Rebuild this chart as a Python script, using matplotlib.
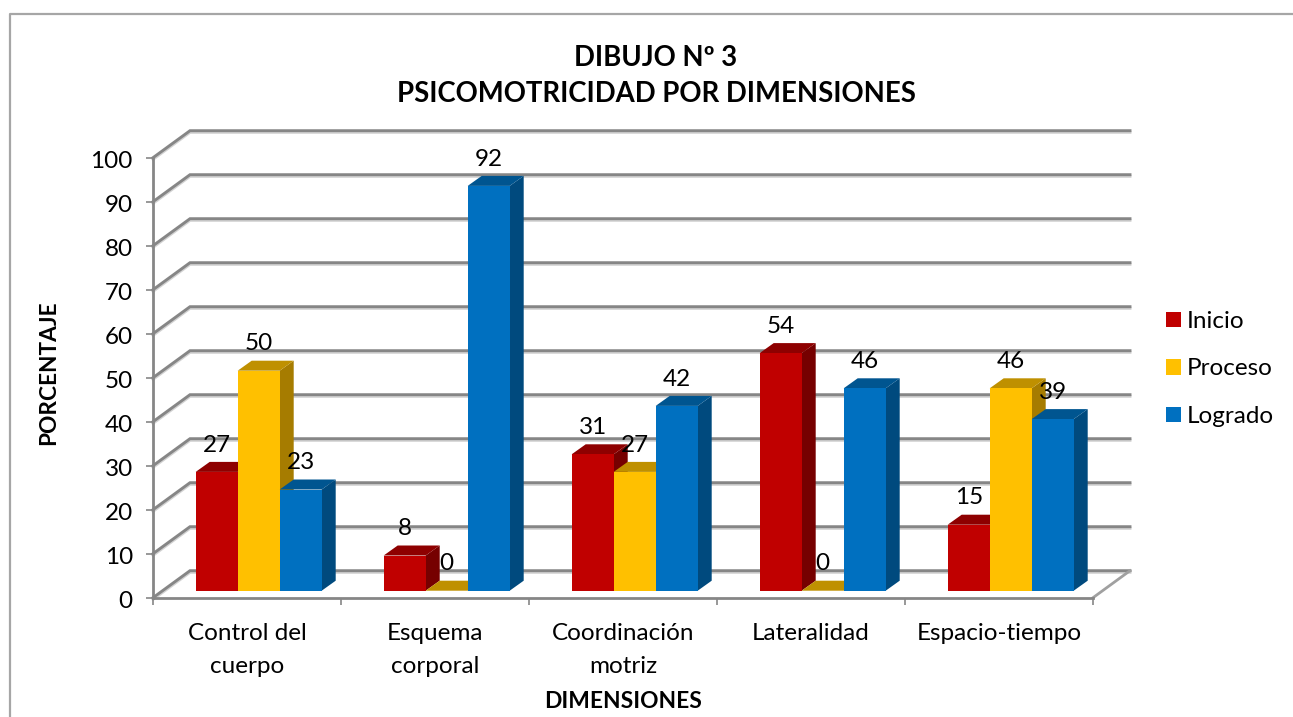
import numpy as np
import matplotlib
matplotlib.use("Agg")
import matplotlib.pyplot as plt
import matplotlib.patheffects as pe
from matplotlib.lines import Line2D
from matplotlib.transforms import ScaledTranslation

categories = ["Control del\ncuerpo", "Esquema\ncorporal", "Coordinación\nmotriz", "Lateralidad", "Espacio-tiempo"]
inicio = [27, 8, 31, 54, 15]
proceso = [50, 0, 27, 0, 46]
logrado = [23, 92, 42, 46, 39]
yticks = list(range(0, 101, 10))

plt.rcParams["font.family"] = ["Lato", "DejaVu Sans"]

W, H = 1293, 717
fig = plt.figure(figsize=(W / 100, H / 100), dpi=100)
ax = fig.add_axes([153 / W, 1 - 597.7 / H, 940 / W, 440 / H])
ax.set_xlim(0, 5)
ax.set_ylim(0, 100)

# pixel to data scale
px_x = 5 / 940
px_y = 100 / 440

grid_col = "#868686"
wall_dx, wall_dy = 37 * px_x, 27 * px_y
shadow = [pe.SimpleLineShadow(offset=(0, -1.2), shadow_color="#808080", alpha=0.35), pe.Normal()]

# back wall, side wall, floor
for t in yticks:
    ax.plot([0, wall_dx, 5 + wall_dx], [t, t + wall_dy, t + wall_dy], color=grid_col,
            lw=2.1, clip_on=False, zorder=1, solid_joinstyle="miter", path_effects=shadow)
ax.plot([5, 5 + wall_dx], [0, wall_dy], color="#a0a0a0", lw=2.0, clip_on=False, zorder=1)

series = [
    (inicio, "Inicio", "#C00000", "#8E0000", "#760000"),
    (proceso, "Proceso", "#FFC000", "#BF9000", "#A67C00"),
    (logrado, "Logrado", "#0070C0", "#005590", "#004A7E"),
]

bw = 42 * px_x
group_left = 42.7 * px_x
base = 7 * px_y
dep_x, dep_y = 14 * px_x, 10 * px_y

zo = 3
handles = []
for s, (vals, name, front, top, side) in enumerate(series):
    for c, v in enumerate(vals):
        x0 = c + group_left + s * bw
        x1 = x0 + bw
        y1 = base + v
        # depth faces
        ax.fill([x1, x1 + dep_x, x1 + dep_x, x1], [base, base + dep_y, y1 + dep_y, y1],
                color=side, lw=0, clip_on=False, zorder=zo)
        ax.fill([x0, x0 + dep_x, x1 + dep_x, x1], [y1, y1 + dep_y, y1 + dep_y, y1],
                color=top, lw=0, clip_on=False, zorder=zo)
        ax.annotate(str(v), (x0 + bw / 2, y1), xytext=(0, 19.3), textcoords="offset points",
                    ha="center", va="center", fontsize=17.5, color="black", zorder=20,
                    annotation_clip=False)
    b = ax.bar(np.arange(5) + group_left + s * bw, vals, bw, bottom=base, align="edge",
               color=front, edgecolor="none", label=name, clip_on=False, zorder=zo + 1)
    handles.append(b)
    zo += 2

for sp in ["top", "right"]:
    ax.spines[sp].set_visible(False)
for sp in ["left", "bottom"]:
    ax.spines[sp].set_color(grid_col)
    ax.spines[sp].set_linewidth(2.0)
    ax.spines[sp].set_zorder(2)

ax.set_yticks(yticks)
ax.set_xticks(np.arange(5) + 0.5)
ax.set_xticklabels(categories)
ax.set_xticks(np.arange(6), minor=True)
ax.tick_params(axis="y", length=5, width=1.2, color=grid_col, pad=9.5, labelsize=17.5)
ax.tick_params(axis="x", which="major", length=0, pad=18, labelsize=17.5)
ax.tick_params(axis="x", which="minor", length=5, width=1.2, color=grid_col)
for lab in ax.get_xticklabels():
    lab.set_linespacing(1.72)
# tick labels sit a little lower in the original
down = ScaledTranslation(0, -1.5 / 72, fig.dpi_scale_trans)
for lab in ax.get_yticklabels():
    lab.set_transform(lab.get_transform() + down)

fig.text(656 / W, 1 - 76 / H, "DIBUJO Nº 3\nPSICOMOTRICIDAD POR DIMENSIONES", ha="center", va="center",
         fontsize=19.8, fontweight="bold", linespacing=1.52)
fig.text(623 / W, 1 - 701 / H, "DIMENSIONES", ha="center", va="center", fontsize=16.4, fontweight="bold")
fig.text(49 / W, 1 - 373 / H, "PORCENTAJE", ha="center", va="center", rotation=90, fontsize=16.3, fontweight="bold")

leg = fig.legend(handles=handles, labels=[s[1] for s in series], loc="center left",
                 bbox_to_anchor=(1166 / W, 1 - 369 / H), frameon=False, fontsize=17.5,
                 handlelength=0.62, handleheight=0.62, handletextpad=0.25, labelspacing=1.09,
                 borderpad=0, borderaxespad=0)

# chart area border
fig.add_artist(Line2D([9.5 / W, 9.5 / W, 1], [0, 1 - 13.5 / H, 1 - 13.5 / H], color="#a6a6a6", lw=1.6))

fig.savefig("out.png", dpi=100)
